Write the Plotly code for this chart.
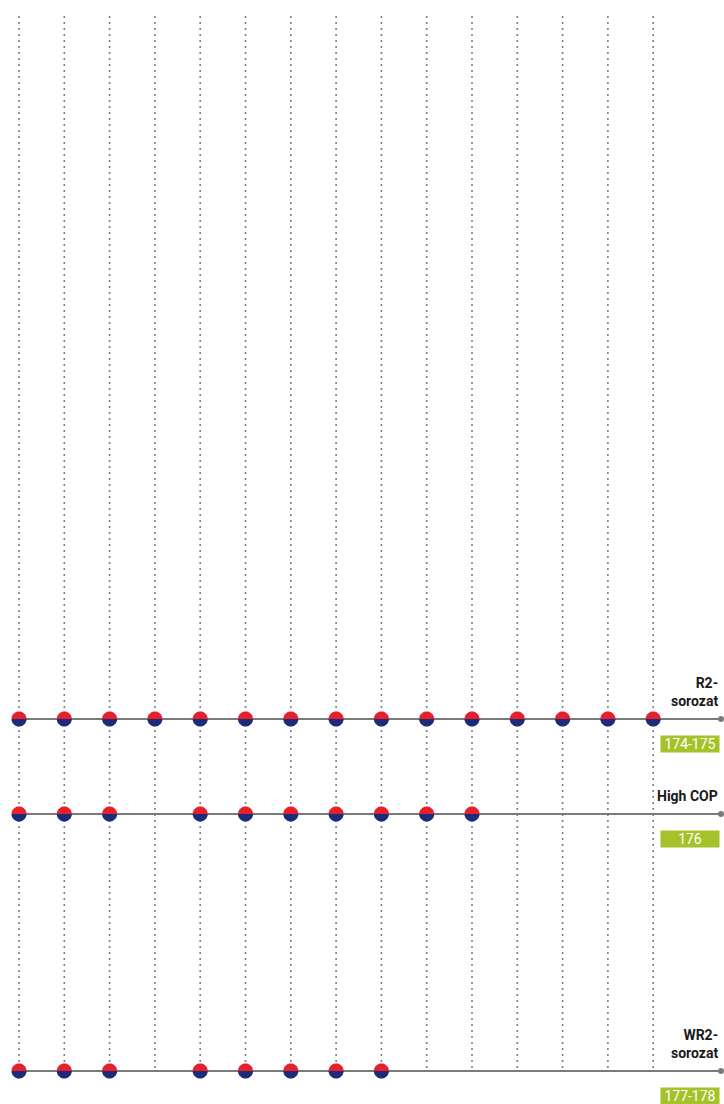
import math
import plotly.graph_objects as go

# columns (model slots) and which ones each series covers
columns = list(range(15))
series_names = ["R2-<br>sorozat", "High COP", "WR2-<br>sorozat"]
series_codes = ["174-175", "176", "177-178"]
r2_avail = [1, 1, 1, 1, 1, 1, 1, 1, 1, 1, 1, 1, 1, 1, 1]
highcop_avail = [1, 1, 1, 0, 1, 1, 1, 1, 1, 1, 1, 0, 0, 0, 0]
wr2_avail = [1, 1, 1, 0, 1, 1, 1, 1, 1, 0, 0, 0, 0, 0, 0]
availability = [r2_avail, highcop_avail, wr2_avail]

# layout constants
W, H = 724, 1104
COL_X0, COL_STEP = 19, 45.3
ROW_Y = [719, 814, 1071]
GRID_TOP = 16
LINE_END = (721 - COL_X0) / COL_STEP
RED = "#e8202a"
NAVY = "#1b2d7a"
GREY = "#7a7a7a"
GREEN = "#a6c22b"
FONT = "Liberation Sans Narrow, Roboto, Arial, sans-serif"

fig = go.Figure()

# vertical dotted guides
for c in columns:
    fig.add_trace(go.Scatter(
        x=[c, c], y=[GRID_TOP, ROW_Y[-1]], mode="lines",
        line=dict(color="#7f7f7f", width=1.6, dash="2px,4px"),
        hoverinfo="skip", showlegend=False
    ))

# horizontal series lines with end dot
for ry in ROW_Y:
    fig.add_trace(go.Scatter(
        x=[0, LINE_END], y=[ry, ry], mode="lines",
        line=dict(color=GREY, width=2),
        hoverinfo="skip", showlegend=False
    ))
    fig.add_trace(go.Scatter(
        x=[LINE_END], y=[ry], mode="markers",
        marker=dict(color=GREY, size=6),
        hoverinfo="skip", showlegend=False
    ))


def half_disc(r, top, n=20):
    pts = []
    for k in range(n + 1):
        a = math.pi * k / n
        px = -r * math.cos(a)
        py = r * math.sin(a) if top else -r * math.sin(a)
        pts.append((px, py))
    return "M " + " L ".join(f"{px:.2f},{py:.2f}" for px, py in pts) + " Z"


shapes = []
R = 7.5
for ry, avail in zip(ROW_Y, availability):
    for c, a in zip(columns, avail):
        if not a:
            continue
        for top, col in [(True, RED), (False, NAVY)]:
            shapes.append(dict(
                type="path", xref="x", yref="y",
                xsizemode="pixel", ysizemode="pixel",
                xanchor=c, yanchor=ry,
                path=half_disc(R, top),
                fillcolor=col, line=dict(width=0), layer="above"
            ))

annotations = []
for ry, name, code in zip(ROW_Y, series_names, series_codes):
    annotations.append(dict(
        x=1, xref="paper", xanchor="right", xshift=-4,
        y=ry, yref="y", yanchor="bottom", yshift=8,
        text=f"<b>{name}</b>", showarrow=False, align="right",
        font=dict(family=FONT, size=14, color="#1a1a1a")
    ))
    annotations.append(dict(
        x=1, xref="paper", xanchor="right", xshift=-4,
        y=ry, yref="y", yanchor="top", yshift=-16,
        text=code, showarrow=False, align="center",
        width=56, height=14, bgcolor=GREEN, borderpad=1,
        font=dict(family=FONT, size=14, color="white")
    ))

fig.update_layout(
    width=W, height=H,
    margin=dict(l=0, r=0, t=0, b=0),
    plot_bgcolor="white", paper_bgcolor="white",
    xaxis=dict(range=[-COL_X0 / COL_STEP, (W - COL_X0) / COL_STEP],
               visible=False, fixedrange=True),
    yaxis=dict(range=[H, 0], visible=False, fixedrange=True),
    shapes=shapes, annotations=annotations, showlegend=False
)

fig.write_html("out.html", config={"displayModeBar": False},
               post_script="document.body.style.margin='0px';"
                           "document.body.style.overflow='hidden';")
